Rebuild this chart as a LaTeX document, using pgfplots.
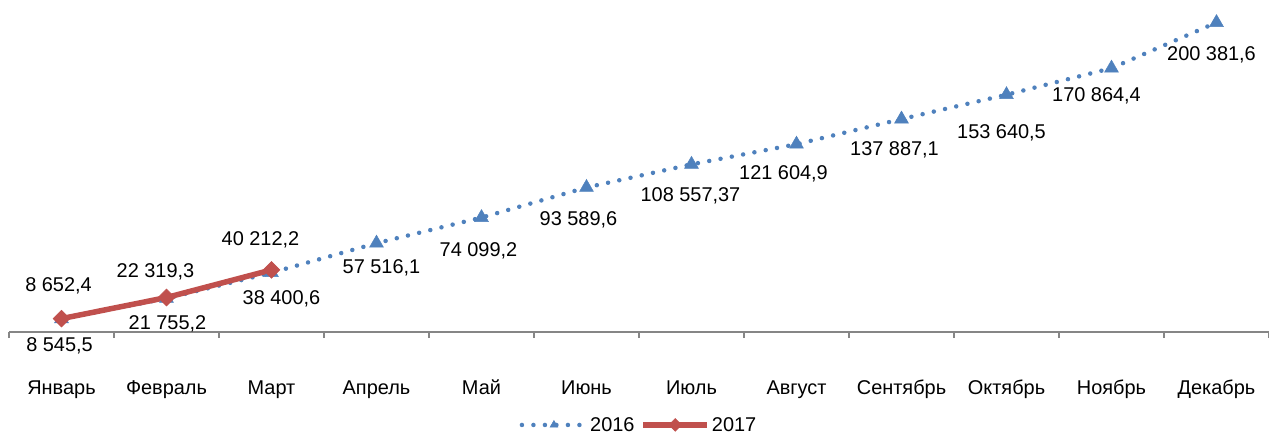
\documentclass[border=0pt]{standalone}
\usepackage{fontspec}
\setmainfont{Liberation Sans}
\usepackage{pgfplots}
\usepackage{pgfplotstable}
\pgfplotsset{compat=1.18}
\definecolor{sblue}{HTML}{4F81BD}
\definecolor{sred}{HTML}{C0504D}
\definecolor{axgray}{HTML}{868686}
\newcommand{\lblfont}{\fontsize{20}{24}\selectfont}

\pgfplotstableread[col sep=semicolon]{
x;y;label;dx;dy
0;8545.5;8 545,5;-2;-27
1;21755.2;21 755,2;1;-25
2;38400.6;38 400,6;10;-26
3;57516.1;57 516,1;5;-25
4;74099.2;74 099,2;-3;-33
5;93589.6;93 589,6;-8;-32
6;108557.37;108 557,37;-1;-31
7;121604.9;121 604,9;-13;-30
8;137887.1;137 887,1;-7;-31
9;153640.5;153 640,5;-5;-38
10;170864.4;170 864,4;-15;-28
11;200381.6;200 381,6;-5;-32
}\tsixteen

\pgfplotstableread[col sep=semicolon]{
x;y;label;dx;dy
0;8652.4;8 652,4;-3;33
1;22319.3;22 319,3;-11;26
2;40212.2;40 212,2;-11;30
}\tseventeen

\begin{document}
\begin{tikzpicture}
\useasboundingbox (0,0) rectangle (1269bp,435bp);
\begin{axis}[
  at={(9bp,103bp)}, anchor=south west,
  scale only axis, width=1260bp, height=332bp,
  xmin=-0.5, xmax=11.5, ymin=0, ymax=215000,
  axis x line=bottom, axis y line=none,
  axis line style={-, draw=axgray, line width=1.3bp},
  xtick={0,...,11},
  xticklabels={Январь,Февраль,Март,Апрель,Май,Июнь,Июль,Август,Сентябрь,Октябрь,Ноябрь,Декабрь},
  major tick length=0pt,
  minor xtick={-0.5,0.5,...,11.5},
  minor tick length=6bp,
  tick align=outside,
  minor tick style={draw=axgray, line width=1.3bp},
  xticklabel style={font=\lblfont, anchor=base, yshift=-62bp},
  ytick=\empty,
  clip=false,
  legend style={at={(0.5,-0.280)}, anchor=center, draw=none, fill=none,
    legend columns=2, font=\lblfont,
    /tikz/every even column/.append style={column sep=4bp}},
  legend image code/.code={\draw[mark repeat=2,mark phase=2,#1,mark size=4.5bp] plot coordinates {(0bp,0bp)(32bp,0bp)(64bp,0bp)};},
]
\addplot[sblue, line width=4.5bp, line cap=round, dash pattern=on 0bp off 11.5bp,
  mark=triangle*, mark size=8bp,
  mark options={solid, fill=sblue, draw=sblue, line width=0.5bp},
  nodes near coords, point meta=explicit symbolic,
  visualization depends on={\thisrow{dx} \as \labdx},
  visualization depends on={\thisrow{dy} \as \labdy},
  every node near coord/.append style={text=black, font=\lblfont, anchor=center, xshift=\labdx bp, yshift=\labdy bp, solid},
] table[x=x, y=y, meta=label] {\tsixteen};
\addlegendentry{2016}
\addplot[sred, line width=5.5bp, solid,
  mark=square*, mark size=6bp,
  mark options={solid, fill=sred, draw=sred, line width=0.5bp, rotate=45},
  nodes near coords, point meta=explicit symbolic,
  visualization depends on={\thisrow{dx} \as \labdx},
  visualization depends on={\thisrow{dy} \as \labdy},
  every node near coord/.append style={text=black, font=\lblfont, anchor=center, xshift=\labdx bp, yshift=\labdy bp},
] table[x=x, y=y, meta=label] {\tseventeen};
\addlegendentry{2017}
\end{axis}
\end{tikzpicture}
\end{document}
